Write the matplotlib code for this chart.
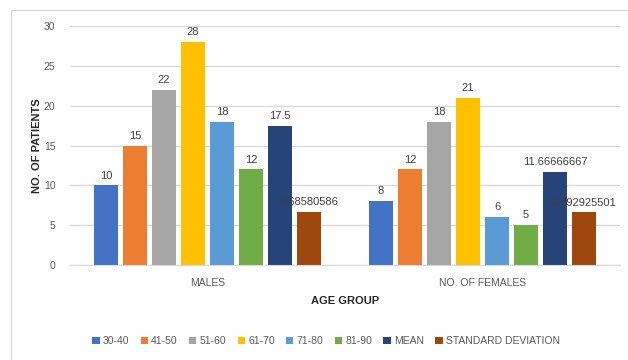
import matplotlib
matplotlib.use("Agg")
import matplotlib.pyplot as plt
from matplotlib.patches import Rectangle
import numpy as np

plt.rcParams['font.family'] = ['Liberation Sans', 'DejaVu Sans']

groups = ["MALES", "NO. OF FEMALES"]
series = ["30-40", "41-50", "51-60", "61-70", "71-80", "81-90", "MEAN", "STANDARD DEVIATION"]
males = [10, 15, 22, 28, 18, 12, 17.5, 6.68580586]
females = [8, 12, 18, 21, 6, 5, 11.66666667, 6.592925501]
labels_m = ["10", "15", "22", "28", "18", "12", "17.5", "6.68580586"]
labels_f = ["8", "12", "18", "21", "6", "5", "11.66666667", "6.592925501"]
colors = ["#4472C4", "#ED7D31", "#A5A5A5", "#FFC000", "#5B9BD5", "#70AD47", "#264478", "#9E480E"]

txt = "#595959"
fig = plt.figure(figsize=(6.28, 3.6), dpi=100)
# outer chart border
fig.patches.append(Rectangle((11 / 628, -0.1), 1.2, (350 / 360) + 0.1, transform=fig.transFigure,
                             fill=False, edgecolor="#D9D9D9", linewidth=1.0))

ax = fig.add_axes([70 / 628, 95 / 360, 550 / 628, 239 / 360])
pitch = 0.1055
width = 0.084
x = np.arange(len(groups))
for i, (s, c) in enumerate(zip(series, colors)):
    vals = [males[i], females[i]]
    labs = [labels_m[i], labels_f[i]]
    pos = x + (i - 3.5) * pitch
    ax.bar(pos, vals, width=width, color=c, label=s, zorder=2)
    for p, v, l in zip(pos, vals, labs):
        ax.text(p, v + 0.6, l, ha="center", va="bottom", fontsize=8, color="#404040", zorder=3)

ax.set_xlim(-0.5, 1.5)
ax.set_ylim(0, 30)
ax.set_yticks(range(0, 31, 5))
ax.yaxis.grid(True, color="#D9D9D9", linewidth=1.0, zorder=0)
ax.set_axisbelow(True)
for sp in ["top", "right", "left"]:
    ax.spines[sp].set_visible(False)
ax.spines["bottom"].set_color("#D9D9D9")
ax.tick_params(axis="both", length=0, colors=txt, labelsize=7.5)
ax.tick_params(axis="y", pad=10.5)
ax.tick_params(axis="x", pad=9)
ax.set_xticks(x)
ax.set_xticklabels(groups)
ax.set_ylabel("NO. OF PATIENTS", fontsize=8, fontweight="bold", color="#262626", labelpad=1)
ax.set_xlabel("AGE GROUP", fontsize=8, fontweight="bold", color="#262626", labelpad=6)

fig.legend(loc="center", bbox_to_anchor=(326 / 628, 1 - 341 / 360), ncol=8, frameon=False,
           fontsize=7.5, handlelength=0.7, handleheight=0.7, handletextpad=0.3,
           columnspacing=1.1, labelcolor=txt)

fig.savefig("out.png", dpi=100)
